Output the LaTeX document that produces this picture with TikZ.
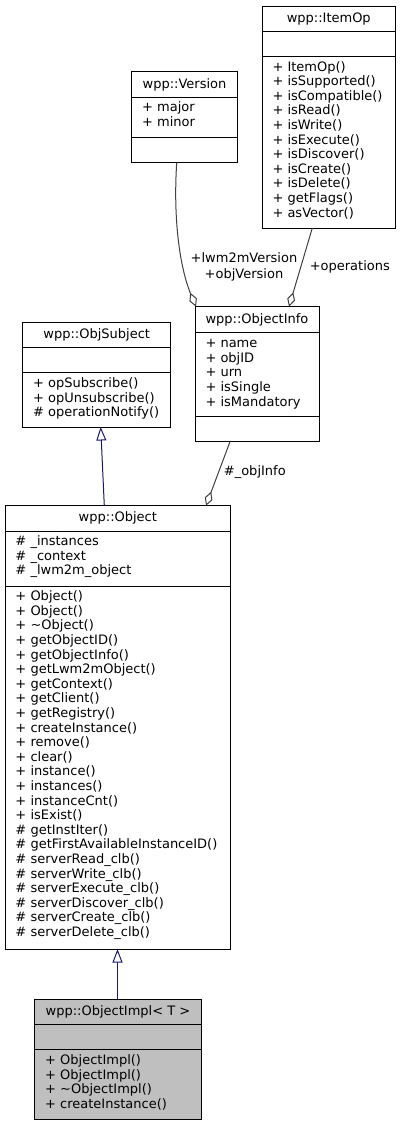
\documentclass[tikz,border=0pt]{standalone}
\usepackage{fontspec}
\setmainfont{DejaVu Sans}
\usetikzlibrary{arrows.meta}
\definecolor{edgegray}{HTML}{404040}
\definecolor{inhblue}{HTML}{191970}
\definecolor{implfill}{HTML}{BFBFBF}
\newcommand\fs{\fontsize{13}{14.6}\selectfont}
\tikzset{
  box/.style={draw=black, line width=1pt, inner sep=0pt, outer sep=0pt},
  sepline/.style={draw=black, line width=1pt},
  txt/.style={inner sep=0pt, outer sep=0pt, font=\fs, text=black},
  agg/.style={draw=edgegray, line width=1pt, -{Diamond[open,length=15pt,width=8pt]}},
  inh/.style={draw=inhblue, line width=1pt, -{Triangle[open,length=13.5pt,width=10pt]}},
}
\newcommand\umlbox[9]{%
  \node[box, anchor=north west, minimum width={(#4-#2)*1pt}, minimum height={(#5-#3)*1pt}, fill=#9] (#1) at (#2,#3) {};
  \draw[sepline] (#2,#6) -- (#4,#6);
  \draw[sepline] (#2,#7) -- (#4,#7);
  \node[txt, anchor=base] (#1-title) at ({(#2+#4)/2},{(#3+#6)/2+3.4}) {#8};
}
\newcommand\members[4]{%
  \foreach \t [count=\i] in {#4} \node[txt, anchor=base west] (#1-\i) at (#2, {#3+(\i-1)*14.6}) {\t};
}
\begin{document}
\begin{tikzpicture}[x=1pt, y=-1pt]
\path[fill=white] (0,0) rectangle (401,1125);
\useasboundingbox (0,0) rectangle (401,1125);

% wpp::ItemOp
\umlbox{io}{262}{6}{395.5}{228}{31.3}{56.7}{wpp::ItemOp}{white}
\members{io-m}{272.5}{71.1}{{+ ItemOp()},{+ isSupported()},{+ isCompatible()},{+ isRead()},{+ isWrite()},{+ isExecute()},{+ isDiscover()},{+ isCreate()},{+ isDelete()},{+ getFlags()},{+ asVector()}}

% wpp::Version
\umlbox{ver}{131.7}{71.7}{237.3}{162.7}{97.7}{137}{wpp::Version}{white}
\members{ver-a}{142.2}{111.7}{{+ major},{+ minor}}

% wpp::ObjectInfo
\umlbox{oi}{195}{306.7}{319}{441.7}{332.7}{416.7}{wpp::ObjectInfo}{white}
\members{oi-a}{205.5}{347.7}{{+ name},{+ objID},{+ urn},{+ isSingle},{+ isMandatory}}

% wpp::ObjSubject
\umlbox{os}{22.7}{322}{170.7}{427}{347.3}{372.7}{wpp::ObjSubject}{white}
\members{os-m}{33.2}{387.7}{{+ opSubscribe()},{+ opUnsubscribe()},{\# operationNotify()}}

% wpp::Object
\umlbox{obj}{5}{505.7}{230.7}{949}{531}{586}{wpp::Object}{white}
\members{obj-a}{15.5}{545.7}{{\# \_instances},{\# \_context},{\# \_lwm2m\_object}}
\members{obj-m}{15.5}{600.7}{{+ Object()},{+ Object()},{+ \textasciitilde{}Object()},{+ getObjectID()},{+ getObjectInfo()},{+ getLwm2mObject()},{+ getContext()},{+ getClient()},{+ getRegistry()},{+ createInstance()},{+ remove()},{+ clear()},{+ instance()},{+ instances()},{+ instanceCnt()},{+ isExist()},{\# getInstIter()},{\# getFirstAvailableInstanceID()},{\# serverRead\_clb()},{\# serverWrite\_clb()},{\# serverExecute\_clb()},{\# serverDiscover\_clb()},{\# serverCreate\_clb()},{\# serverDelete\_clb()}}

% wpp::ObjectImpl< T >
\umlbox{impl}{34.7}{999.3}{201.3}{1119}{1024.3}{1049.7}{wpp::ObjectImpl< T >}{implfill}
\members{impl-m}{45.2}{1064.4}{{+ ObjectImpl()},{+ ObjectImpl()},{+ \textasciitilde{}ObjectImpl()},{+ createInstance()}}

% connectors
\draw[agg] ([xshift=-7.8pt]ver.south) .. controls (173,220) and (180,268) .. ([xshift=1pt]oi.north west);
\draw[agg] ([xshift=50.3pt]io.south west) -- ([xshift=-30pt]oi.north east);
\draw[agg] ([xshift=35pt]oi.south west) -- ([xshift=201pt]obj.north west);
\draw[inh] ([xshift=99.3pt]obj.north west) -- ([xshift=78pt]os.south west);
\draw[inh] ([xshift=82.8pt]impl.north west) -- ([xshift=112.5pt]obj.south west);

% labels
\node[txt, align=center, font=\fontsize{13}{15.7}\selectfont] (lbl-ver) at (244,267.2) {+lwm2mVersion\\+objVersion};
\node[txt] (lbl-op) at (349.8,266.7) {+operations};
\node[txt] (lbl-oi) at (254.8,472.3) {\#\_objInfo};
\end{tikzpicture}
\end{document}
